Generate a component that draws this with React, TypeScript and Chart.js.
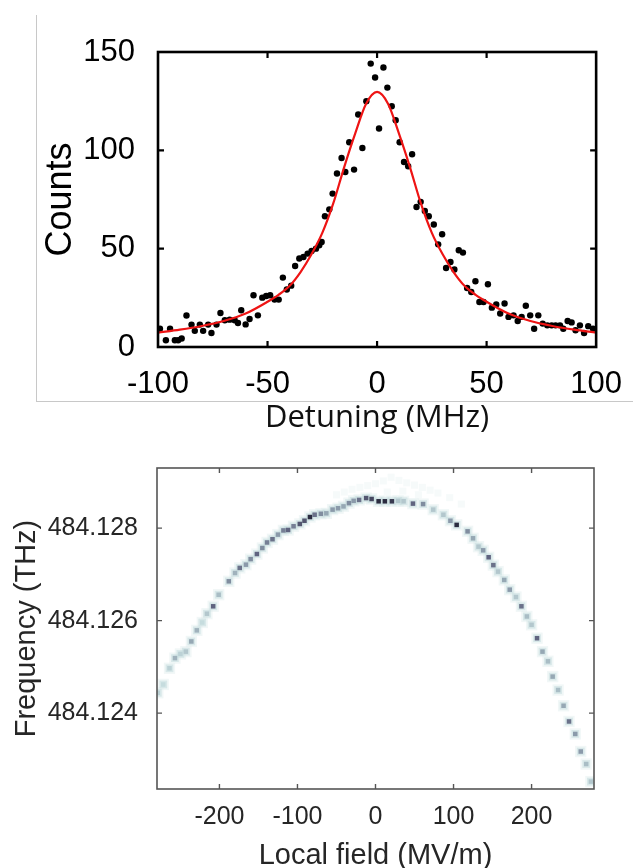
import React, { useEffect, useRef } from 'react';
import { Chart, registerables } from 'chart.js';

Chart.register(...registerables);

// ---------- Top chart: counts vs detuning ----------
const detuning = [
  -99.1, -96.4, -94.5, -92.3, -90.8, -89.2, -87, -84.7, -83.2, -80.9, -79.4, -77.1, -75.6, -73.3,
  -71.5, -69.5, -67.3, -65, -63.5, -62, -60, -58.2, -56.4, -54.4, -52.4, -50.6, -48.8, -46.8,
  -44.9, -43, -41.2, -39.2, -37.4, -35.5, -33.6, -31.7, -29.9, -27.9, -26.4, -25.3, -23.8, -21.8,
  -20.3, -18.3, -16.2, -14.5, -12.7, -10.5, -8.6, -6.7, -4.9, -2.9, -0.9, 0.9, 2.9, 4.7, 6.7, 8.5,
  10.3, 12.3, 14.2, 16, 18, 19.9, 21.8, 23.6, 25.9, 27.9, 29.7, 31.5, 33.5, 35.3, 37.3, 39.2, 41.1,
  43, 44.9, 46.7, 48.6, 50.6, 52.4, 54.4, 56.2, 58.2, 60, 62.3, 64.2, 66, 67.9, 69.9, 71.7, 73.6,
  75.6, 77.7, 79.7, 81.5, 83.5, 85, 87, 88.8, 90.6, 92.6, 94.5, 96.4, 98.6,
];
const counts = [
  9.3, 3.4, 9.3, 3.4, 3.4, 4.3, 16, 11.4, 8.2, 11.4, 8.2, 11.4, 7.1, 11.4,
  17.3, 13.6, 13.9, 13.6, 12.2, 18.7, 11.5, 14.2, 26.3, 16.1, 25.1, 25.9, 26.3, 24.1,
  24.1, 35.3, 29.2, 31.2, 41.2, 45, 45.8, 47.5, 48.8, 50, 51.7, 53.4, 66.5, 70,
  78, 88.2, 96.1, 89, 104.1, 90.2, 118.2, 101.2, 125, 144.1, 137, 111.1, 142.1, 131.9, 122.4, 115.3,
  104.1, 94.1, 91.9, 98, 71.2, 73.8, 69.2, 66.5, 62.3, 52.2, 57.3, 40.2, 43.2, 39.4, 49.2, 48, 30,
  28, 33.4, 22.9, 22.9, 31.9, 20, 21.6, 17, 22.1, 15.3, 16.1, 13.2, 15.3, 21, 16.1, 9.3, 16.1,
  11.9, 11, 11, 11, 11, 9.3, 13.2, 12.5, 8.5, 11, 7.1, 10.6, 9.3,
];
const fitDetuning = [-100, -90, -80, -70, -60, -50, -45, -40, -35, -30, -25, -20, -15, -10, -5, 0, 5, 10, 15, 20, 25, 30, 35, 40, 45, 50, 60, 70, 80, 90, 100];
const fitCounts = [7.3, 8.8, 10.7, 13.2, 17, 23, 26.5, 31, 38, 47, 58, 73, 91.5, 108.5, 123.7, 129.7, 123.7, 108.5, 91.5, 73, 58, 47, 38, 31, 26.5, 23, 17, 13.2, 10.7, 8.8, 7.3];
const detuningTicks = [-100, -50, 0, 50, 100];
const countTicks = [0, 50, 100, 150];

// ---------- Bottom chart: frequency vs local field (2D histogram cells) ----------
const fieldX = [
  -279, -272, -264, -257, -250, -243, -236, -229, -222, -216, -208, -201, -188, -180, -174, -166,
  -160, -152, -145, -139, -132, -125, -118, -112, -105, -97, -91, -84, -78, -70, -63, -55, -48,
  -41, -34, -28, -21, -12, -5, 4, 12, 21, 29, 36, 48, 61, 74, 87, 96, 104, 118, 125, 132, 138,
  145, 151, 157, 165, 172, 180, 187, 194, 200, 207, 214, 221, 227, 234, 241, 248, 256, 263, 270, 276,
];
const freqY = [
  484.12444, 484.12462, 484.12497, 484.12519, 484.12528, 484.12533, 484.12555, 484.12579, 484.12596,
  484.12615, 484.12631, 484.12656, 484.12685, 484.12703, 484.12714, 484.12721, 484.12733, 484.12744,
  484.12757, 484.12769, 484.12776, 484.12786, 484.12795, 484.12796, 484.12804, 484.12809, 484.12816,
  484.12824, 484.12829, 484.12831, 484.12832, 484.1284, 484.12843, 484.12847, 484.12854, 484.12859,
  484.12861, 484.12865, 484.12863, 484.12858, 484.12858, 484.12858, 484.12859, 484.12858, 484.12853,
  484.12852, 484.1284, 484.12829, 484.12816, 484.12807, 484.12793, 484.12778, 484.1276, 484.12752,
  484.12737, 484.1272, 484.12706, 484.12688, 484.12667, 484.12651, 484.12631, 484.12609, 484.12591,
  484.12562, 484.12533, 484.12512, 484.12479, 484.1245, 484.12416, 484.12382, 484.12355, 484.12317,
  484.1229, 484.12252,
];
const intensity = [
  0.3, 0.25, 0.3, 0.45, 0.3, 0.35, 0.5, 0.45, 0.25, 0.35, 0.75, 0.4, 0.6, 0.45, 0.7, 0.55,
  0.6, 0.75, 0.6, 0.65, 0.7, 0.55, 0.65, 0.75, 0.65, 0.8, 0.8, 0.95, 0.7, 0.6, 0.5, 0.55, 0.55,
  0.5, 0.6, 0.55, 0.7, 0.8, 0.85, 0.95, 0.95, 0.9, 0.35, 0.35, 0.75, 0.6, 0.35, 0.35, 0.55, 0.95,
  0.6, 0.5, 0.35, 0.55, 0.75, 0.7, 0.35, 0.5, 0.55, 0.35, 0.7, 0.4, 0.35, 0.75, 0.5, 0.4, 0.5, 0.4,
  0.5, 0.7, 0.55, 0.55, 0.4, 0.35,
];
const cloudX = [-50, -40, -30, -20, -10, 0, 10, 20, 30, 40, 50, 60, 70, 80, 95, 110, 15, 35, 55];
const cloudY = [484.12872, 484.12878, 484.12884, 484.12888, 484.12892, 484.12896, 484.12902, 484.12910, 484.12903, 484.12898, 484.12893, 484.12888, 484.12882, 484.12876, 484.12866, 484.12852, 484.12878, 484.12880, 484.12872];
const fieldTicks = [-200, -100, 0, 100, 200];
const freqTicks = [484.124, 484.126, 484.128];

// inverted "bone" colour map
function boneInv(t: number): string {
  const stops: [number, number[]][] = [
    [0, [255, 255, 255]],
    [0.25, [198, 220, 222]],
    [0.5, [150, 168, 180]],
    [0.75, [96, 100, 128]],
    [1, [30, 30, 48]],
  ];
  for (let i = 1; i < stops.length; i++) {
    if (t <= stops[i][0]) {
      const [t0, c0] = stops[i - 1];
      const [t1, c1] = stops[i];
      const f = (t - t0) / (t1 - t0);
      const c = c0.map((v, k) => Math.round(v + (c1[k] - v) * f));
      return `rgb(${c[0]},${c[1]},${c[2]})`;
    }
  }
  return 'rgb(30,30,48)';
}

const framePlugin = {
  id: 'frame',
  afterDatasetsDraw(chart: any, _args: any, opts: any) {
    const { ctx, chartArea: a, scales } = chart;
    ctx.save();
    ctx.strokeStyle = opts.color;
    ctx.lineWidth = opts.width;
    ctx.strokeRect(a.left, a.top, a.right - a.left, a.bottom - a.top);
    ctx.lineWidth = opts.tickWidth;
    ctx.beginPath();
    const L = opts.tick;
    scales.x.ticks.forEach((t: any) => {
      const px = scales.x.getPixelForValue(t.value);
      if (px <= a.left + 2 || px >= a.right - 2) return;
      ctx.moveTo(px, a.bottom);
      ctx.lineTo(px, a.bottom - L);
      ctx.moveTo(px, a.top);
      ctx.lineTo(px, a.top + L);
    });
    scales.y.ticks.forEach((t: any) => {
      const py = scales.y.getPixelForValue(t.value);
      if (py <= a.top + 2 || py >= a.bottom - 2) return;
      ctx.moveTo(a.left, py);
      ctx.lineTo(a.left + L, py);
      ctx.moveTo(a.right, py);
      ctx.lineTo(a.right - L, py);
    });
    ctx.stroke();
    ctx.restore();
  },
};

function TopChart() {
  const ref = useRef<HTMLCanvasElement>(null);
  useEffect(() => {
    const chart = new Chart(ref.current!, {
      type: 'scatter',
      data: {
        datasets: [
          {
            label: 'fit',
            data: fitDetuning.map((x, i) => ({ x, y: fitCounts[i] })),
            showLine: true,
            borderColor: '#ee1414',
            borderWidth: 2.2,
            pointRadius: 0,
            cubicInterpolationMode: 'monotone',
            order: 0,
          } as any,
          {
            label: 'data',
            data: detuning.map((x, i) => ({ x, y: counts[i] })),
            backgroundColor: '#000',
            borderWidth: 0,
            pointRadius: 3.2,
            order: 1,
          },
        ],
      },
      options: {
        animation: false,
        responsive: false,
        devicePixelRatio: 1,
        layout: { padding: { left: 0, top: 52, right: 35, bottom: 0 } },
        plugins: {
          legend: { display: false },
          tooltip: { enabled: false },
          frame: { color: '#000', width: 2.6, tickWidth: 2.2, tick: 6 },
        } as any,
        scales: {
          x: {
            type: 'linear',
            min: -100,
            max: 100,
            grid: { display: false },
            border: { display: false },
            afterBuildTicks: (s: any) => { s.ticks = detuningTicks.map((v) => ({ value: v })); },
            afterFit: (s: any) => { s.height = 93; },
            ticks: {
              padding: 11,
              color: '#000',
              font: { family: 'Liberation Sans', size: 31 },
              callback: (v: any) => String(v),
              maxRotation: 0,
            },
            title: {
              display: true,
              text: 'Detuning (MHz)',
              color: '#111',
              font: { family: 'Open Sans', size: 31 },
              padding: { top: 0, bottom: 3 },
            },
          },
          y: {
            type: 'linear',
            min: 0,
            max: 150,
            grid: { display: false },
            border: { display: false },
            afterBuildTicks: (s: any) => { s.ticks = countTicks.map((v) => ({ value: v })); },
            afterFit: (s: any) => { s.width = 158; },
            ticks: {
              padding: 15,
              color: '#000',
              font: { family: 'Liberation Sans', size: 31 },
              callback: (v: any) => String(v),
            },
            title: {
              display: true,
              text: 'Counts',
              color: '#000',
              font: { family: 'Liberation Sans', size: 36 },
              padding: { top: 39, bottom: 0 },
            },
          },
        },
      },
      plugins: [framePlugin],
    });
    return () => chart.destroy();
  }, []);
  return <canvas ref={ref} width={633} height={440} style={{ position: 'absolute', left: 0, top: 0, display: 'block' }} />;
}

function BottomChart() {
  const ref = useRef<HTMLCanvasElement>(null);
  useEffect(() => {
    const cells = fieldX.map((x, i) => ({ x, y: freqY[i] }));
    const chart = new Chart(ref.current!, {
      type: 'scatter',
      data: {
        datasets: [
          {
            label: 'cells',
            data: cells,
            pointStyle: 'rect',
            pointRadius: 3.2,
            backgroundColor: intensity.map((t) => boneInv(t)),
            borderWidth: 0,
            order: 0,
          },
          {
            label: 'halo',
            data: cells,
            pointStyle: 'rect',
            pointRadius: 5.5,
            backgroundColor: 'rgba(200,222,224,0.6)',
            borderWidth: 0,
            order: 1,
          },
          {
            label: 'halo2',
            data: cells,
            pointStyle: 'rect',
            pointRadius: 8,
            backgroundColor: 'rgba(225,238,238,0.45)',
            borderWidth: 0,
            order: 2,
          },
          {
            label: 'cloud',
            data: cloudX.map((x, i) => ({ x, y: cloudY[i] })),
            pointStyle: 'rect',
            pointRadius: 5,
            backgroundColor: 'rgba(232,242,242,0.4)',
            borderWidth: 0,
            order: 3,
          },
        ],
      },
      options: {
        animation: false,
        responsive: false,
        devicePixelRatio: 1,
        layout: { padding: { left: 0, top: 28, right: 39, bottom: 0 } },
        plugins: {
          legend: { display: false },
          tooltip: { enabled: false },
          frame: { color: '#555', width: 1.6, tickWidth: 1.4, tick: 5 },
        } as any,
        scales: {
          x: {
            type: 'linear',
            min: -280,
            max: 280,
            grid: { display: false },
            border: { display: false },
            afterBuildTicks: (s: any) => { s.ticks = fieldTicks.map((v) => ({ value: v })); },
            afterFit: (s: any) => { s.height = 79; },
            ticks: {
              padding: 5,
              color: '#262626',
              font: { family: 'Liberation Sans', size: 25 },
              callback: (v: any) => String(v),
              maxRotation: 0,
            },
            title: {
              display: true,
              text: 'Local field (MV/m)',
              color: '#262626',
              font: { family: 'Liberation Sans', size: 29 },
              padding: { top: 0, bottom: -5 },
            },
          },
          y: {
            type: 'linear',
            min: 484.12236,
            max: 484.1293,
            grid: { display: false },
            border: { display: false },
            afterBuildTicks: (s: any) => { s.ticks = freqTicks.map((v) => ({ value: v })); },
            afterFit: (s: any) => { s.width = 157; },
            ticks: {
              padding: 11,
              color: '#262626',
              font: { family: 'Liberation Sans', size: 25 },
              callback: (v: any) => Number(v).toFixed(3),
            },
            title: {
              display: true,
              text: 'Frequency (THz)',
              color: '#262626',
              font: { family: 'Liberation Sans', size: 29 },
              padding: { top: 10, bottom: 0 },
            },
          },
        },
      },
      plugins: [framePlugin],
    });
    return () => chart.destroy();
  }, []);
  return <canvas ref={ref} width={633} height={428} style={{ position: 'absolute', left: 0, top: 440, display: 'block' }} />;
}

export default function App() {
  return (
    <div style={{ position: 'absolute', left: 0, top: 0, width: 633, height: 868, background: '#fff', overflow: 'hidden' }}>
      <TopChart />
      <BottomChart />
      <div style={{ position: 'absolute', left: 36, top: 15, width: 1, height: 387, background: '#c8c8c8' }} />
      <div style={{ position: 'absolute', left: 36, top: 401, width: 597, height: 1, background: '#c8c8c8' }} />
    </div>
  );
}
